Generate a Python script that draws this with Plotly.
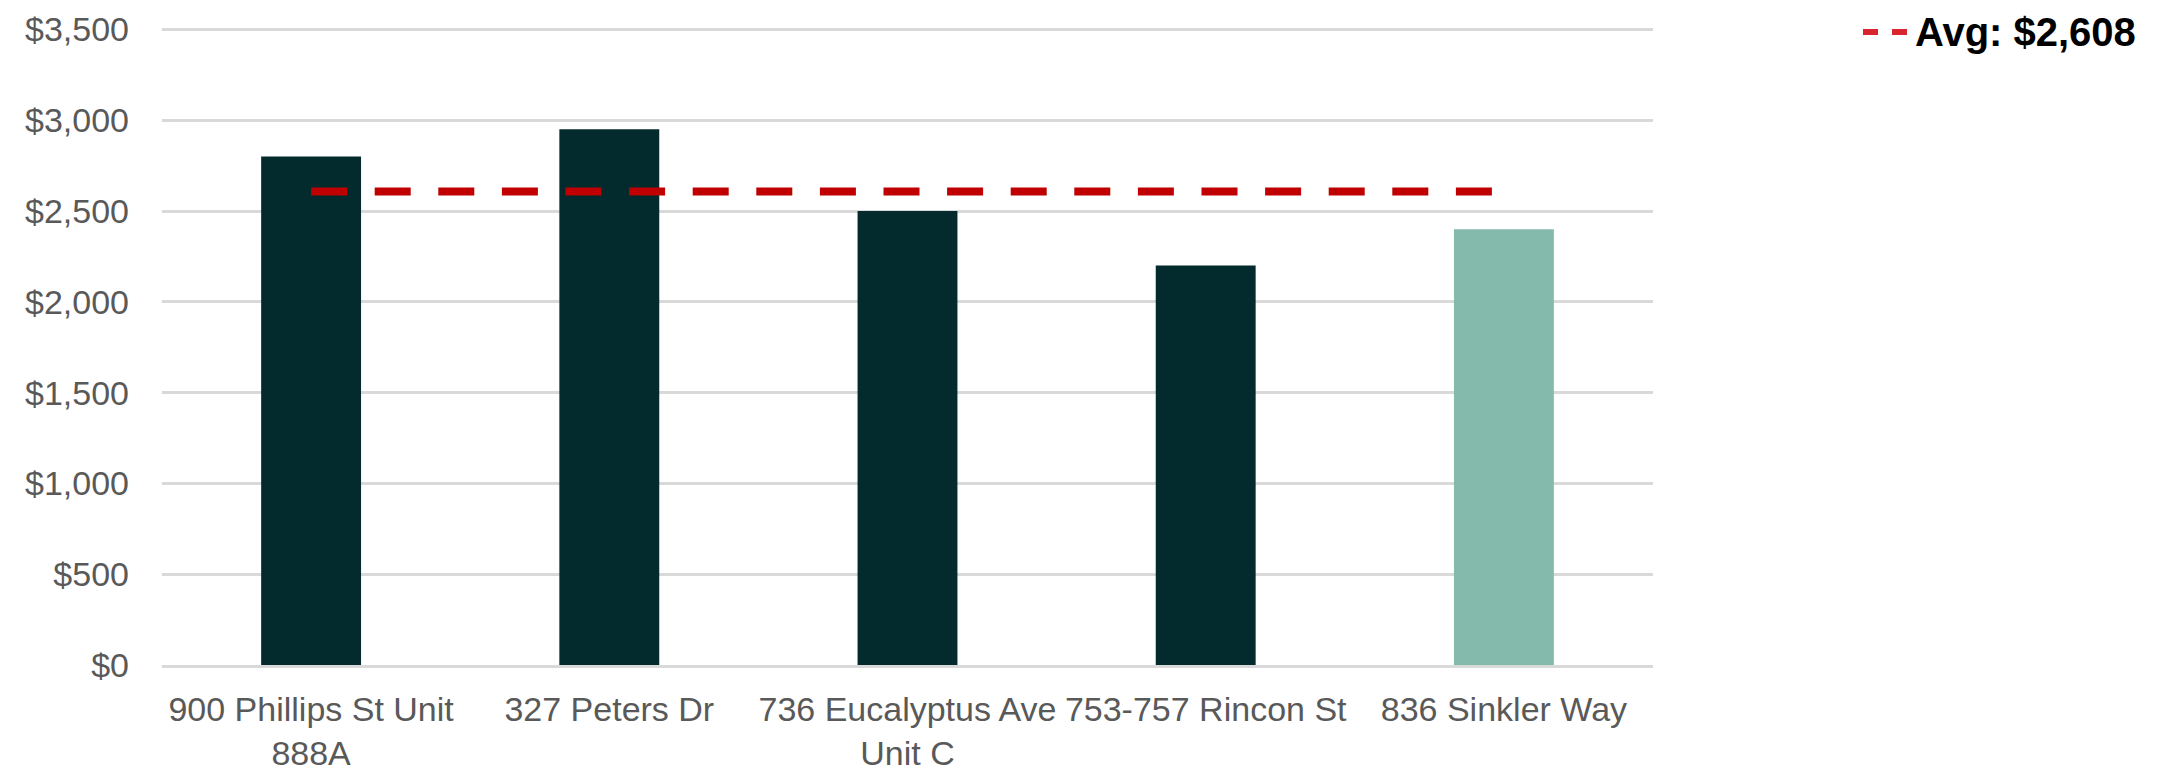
import plotly.graph_objects as go

# Monthly rent by property
properties = [
    "900 Phillips St Unit<br>888A",
    "327 Peters Dr",
    "736 Eucalyptus Ave<br>Unit C",
    "753-757 Rincon St",
    "836 Sinkler Way",
]
rents = [2800, 2950, 2500, 2200, 2400]
bar_colors = ["#032B2E", "#032B2E", "#032B2E", "#032B2E", "#83BAAC"]
avg_rent = 2608
y_ticks = [0, 500, 1000, 1500, 2000, 2500, 3000, 3500]

W, H = 2178, 772
M_L, M_R, M_T, M_B = 162, 525, 28, 107
plot_w = W - M_L - M_R
plot_h = H - M_T - M_B

label_font = dict(family="Liberation Sans, Arial", size=34, color="#595959")

fig = go.Figure()

fig.add_trace(go.Bar(
    x=properties,
    y=rents,
    marker=dict(color=bar_colors, line=dict(width=0)),
    width=0.335,
    showlegend=False,
    hoverinfo="skip",
))

# Average reference line, spanning the first to the last property
fig.add_trace(go.Scatter(
    x=[properties[0], properties[-1]],
    y=[avg_rent, avg_rent],
    mode="lines",
    line=dict(color="#C00000", width=8, dash="36px,27.6px"),
    showlegend=False,
    hoverinfo="skip",
))

# Legend key for the average line
def px_x(px):
    return (px - M_L) / plot_w

def px_y(py):
    return (H - M_B - py) / plot_h

fig.add_shape(
    type="line", xref="paper", yref="paper",
    x0=px_x(1863), x1=px_x(1907), y0=px_y(32), y1=px_y(32),
    line=dict(color="#D9262E", width=6, dash="15px,14px"),
)
fig.add_annotation(
    xref="paper", yref="paper",
    x=px_x(1913), y=px_y(32),
    xanchor="left", yanchor="middle",
    text=f"<b>Avg: ${avg_rent:,}</b>",
    showarrow=False,
    font=dict(family="Liberation Sans, Arial", size=40, color="#000000"),
)

fig.update_layout(
    width=W, height=H,
    margin=dict(l=M_L, r=M_R, t=M_T, b=M_B),
    paper_bgcolor="white",
    plot_bgcolor="white",
    bargap=0.665,
    xaxis=dict(
        showgrid=False,
        showline=True,
        linecolor="#D9D9D9",
        linewidth=3,
        tickfont=label_font,
        tickangle=0,
        ticks="",
        ticklabelstandoff=12,
        automargin=False,
    ),
    yaxis=dict(
        range=[0, plot_h / (90.8 / 500)],
        tickvals=y_ticks,
        ticktext=[f"${v:,}" for v in y_ticks],
        showgrid=True,
        gridcolor="#D9D9D9",
        gridwidth=3,
        zeroline=False,
        showline=False,
        tickfont=label_font,
        ticks="",
        ticklabelstandoff=32,
        automargin=False,
    ),
)

fig.write_html("out.html")
